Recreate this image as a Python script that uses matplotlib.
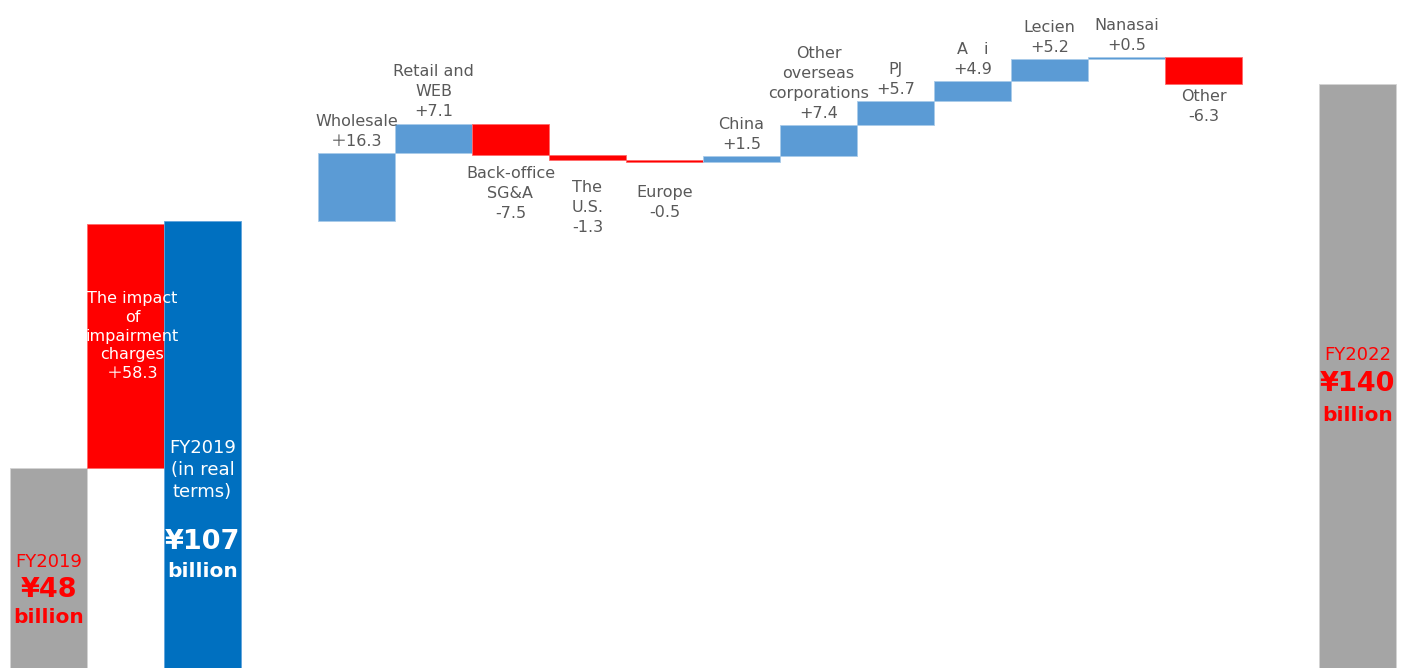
import matplotlib
matplotlib.use('Agg')
from matplotlib import pyplot as plt

# values in billion yen
start_value = 48
impairment = 58.3
real_value = 107
end_value = 140

change_labels = ['Wholesale', 'Retail and\nWEB', 'Back-office\nSG&A', 'The\nU.S.', 'Europe', 'China',
                 'Other\noverseas\ncorporations', 'PJ', 'A\u3000i', 'Lecien', 'Nanasai', 'Other']
change_values = [16.3, 7.1, -7.5, -1.3, -0.5, 1.5, 7.4, 5.7, 4.9, 5.2, 0.5, -6.3]
# extra drop (points) for the labels under the negative bars
label_drop = [0, 0, 2, 8, 10, 0, 0, 0, 0, 0, 0, -2]

GRAY = '#a5a5a5'
RED = '#ff0000'
BLUE = '#0070c0'
LBLUE = '#5b9bd5'
TXT = '#595959'
# lighter outlines like the office chart
EDGE = {GRAY: '#d4d4d4', RED: '#ff6a6a', BLUE: '#5fa3dc', LBLUE: '#a9cbea'}
FONT = ['DejaVu Sans', 'Noto Sans CJK JP']

plt.rcParams['font.family'] = FONT

fig = plt.figure(figsize=(14.16, 6.68), dpi=100)
ax = fig.add_axes([0, 0, 1, 1])
ax.set_xlim(-10 / 77, 1406 / 77)
ax.set_ylim(0, 160)
ax.axis('off')

lw = 0.6
ax.bar(0, start_value, width=1, align='edge', color=GRAY, edgecolor=EDGE[GRAY], linewidth=lw)
ax.bar(1, impairment, bottom=start_value, width=1, align='edge', color=RED, edgecolor=EDGE[RED], linewidth=lw)
ax.bar(2, real_value, width=1, align='edge', color=BLUE, edgecolor=EDGE[BLUE], linewidth=lw)

level = real_value
for i, (lab, v) in enumerate(zip(change_labels, change_values)):
    x = 4 + i
    bottom = level if v >= 0 else level + v
    col = LBLUE if v >= 0 else RED
    ax.bar(x, abs(v), bottom=bottom, width=1, align='edge', color=col, edgecolor=EDGE[col], linewidth=lw)
    sign = '＋' if (v >= 0 and i == 0) else ('+' if v >= 0 else '')
    txt = lab + '\n' + sign + ('%.1f' % v)
    if v >= 0:
        ax.annotate(txt, (x + 0.5, level + v), xytext=(0, 3), textcoords='offset points',
                    ha='center', va='bottom', fontsize=11.5, color=TXT, linespacing=1.42)
    else:
        ax.annotate(txt, (x + 0.5, level + v), xytext=(0, -6 - label_drop[i]), textcoords='offset points',
                    ha='center', va='top', fontsize=11.5, color=TXT, linespacing=1.42)
    level += v

ax.bar(17, end_value, width=1, align='edge', color=GRAY, edgecolor=EDGE[GRAY], linewidth=lw)

# inner labels
ax.text(0.5, 25.4, 'FY2019', ha='center', va='center', color=RED, fontsize=13)
ax.text(0.5, 18.7, '¥48', ha='center', va='center', color=RED, fontsize=19.5, fontweight='bold')
ax.text(0.5, 12.0, 'billion', ha='center', va='center', color=RED, fontsize=14.5, fontweight='bold')

ax.text(1.59, 79.5, 'The impact\nof\nimpairment\ncharges\n＋58.3', ha='center', va='center',
        color='white', fontsize=11.5, linespacing=1.32)

ax.text(2.5, 47.4, 'FY2019\n(in real\nterms)', ha='center', va='center', color='white',
        fontsize=13, linespacing=1.28)
ax.text(2.5, 30.2, '¥107', ha='center', va='center', color='white', fontsize=19.5, fontweight='bold')
ax.text(2.5, 23.2, 'billion', ha='center', va='center', color='white', fontsize=14.5, fontweight='bold')

ax.text(17.5, 75.0, 'FY2022', ha='center', va='center', color=RED, fontsize=13)
ax.text(17.5, 68.0, '¥140', ha='center', va='center', color=RED, fontsize=19.5, fontweight='bold')
ax.text(17.5, 60.4, 'billion', ha='center', va='center', color=RED, fontsize=14.5, fontweight='bold')

fig.savefig('out.png', dpi=100)
